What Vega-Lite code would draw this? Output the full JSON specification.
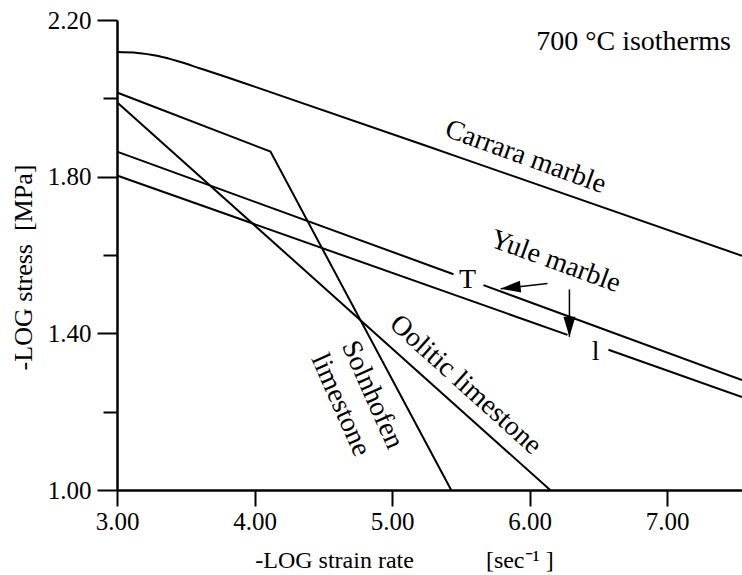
{
  "$schema": "https://vega.github.io/schema/vega-lite/v6.json",
  "autosize": {"type": "none"},
  "padding": {"left": 117, "top": 20, "right": 0, "bottom": 85},
  "width": 625,
  "height": 470,
  "background": "white",
  "view": {"stroke": null},
  "config": {
    "font": "Liberation Serif",
    "axis": {"labelFont": "Liberation Serif", "titleFont": "Liberation Serif", "labelColor": "black", "titleColor": "black", "domainColor": "black", "tickColor": "black", "grid": false, "titleFontWeight": "normal"}
  },
  "datasets": {
    "curves": [
      {"series": "Yule T a", "x": 3.0, "y": 1.864},
      {"series": "Yule T a", "x": 5.447, "y": 1.551},
      {"series": "Yule T b", "x": 5.665, "y": 1.523},
      {"series": "Yule T b", "x": 7.545, "y": 1.281},
      {"series": "Yule I a", "x": 3.0, "y": 1.803},
      {"series": "Yule I a", "x": 6.276, "y": 1.396},
      {"series": "Yule I b", "x": 6.574, "y": 1.358},
      {"series": "Yule I b", "x": 7.545, "y": 1.237},
      {"series": "Solnhofen limestone", "x": 3.0, "y": 2.015},
      {"series": "Solnhofen limestone", "x": 4.116, "y": 1.864},
      {"series": "Solnhofen limestone", "x": 5.43, "y": 1.0},
      {"series": "Oolitic limestone", "x": 3.0, "y": 1.99},
      {"series": "Oolitic limestone", "x": 6.15, "y": 1.0}
    ],
    "carrara": [
      {"series": "Carrara marble", "x": 3.0, "y": 2.118},
      {"series": "Carrara marble", "x": 3.15, "y": 2.116},
      {"series": "Carrara marble", "x": 3.3, "y": 2.108},
      {"series": "Carrara marble", "x": 3.45, "y": 2.094},
      {"series": "Carrara marble", "x": 3.6, "y": 2.077},
      {"series": "Carrara marble", "x": 3.8, "y": 2.054},
      {"series": "Carrara marble", "x": 4.0, "y": 2.030},
      {"series": "Carrara marble", "x": 5.5, "y": 1.848},
      {"series": "Carrara marble", "x": 7.545, "y": 1.598}
    ],
    "arrows": [
      {"id": "T", "x": 6.13, "y": 1.527, "x2": 5.79, "y2": 1.514},
      {"id": "I", "x": 6.29, "y": 1.512, "x2": 6.29, "y2": 1.391}
    ],
    "labels": [
      {"label": "700 °C isotherms", "x": 6.757, "y": 2.143},
      {"label": "Carrara marble", "x": 5.971, "y": 1.85},
      {"label": "Yule marble", "x": 6.189, "y": 1.583},
      {"label": "T", "x": 5.549, "y": 1.537},
      {"label": "l", "x": 6.48, "y": 1.353},
      {"label": "Oolitic limestone", "x": 5.534, "y": 1.2685},
      {"label": "Solnhofen", "x": 4.856, "y": 1.243},
      {"label": "limestone", "x": 4.625, "y": 1.217}
    ]
  },
  "layer": [
    {
      "data": {"name": "curves"},
      "mark": {"type": "line", "color": "black", "strokeWidth": 2},
      "encoding": {
        "x": {
          "field": "x", "type": "quantitative",
          "scale": {"domain": [3.0, 7.545], "nice": false, "zero": false},
          "axis": {
            "values": [3, 4, 5, 6, 7], "format": ".2f",
            "tickSize": 16, "tickWidth": 2, "domainWidth": 2.5,
            "labelFontSize": 25, "labelPadding": 3, "labelFlush": false,
            "title": "-LOG strain rate\u00a0\u00a0\u00a0\u00a0\u00a0\u00a0\u00a0\u00a0\u00a0\u00a0\u00a0\u00a0[sec\u207b\u00b9\u00a0]", "titleFontSize": 24,
            "titleX": 287, "titleY": 77, "titleBaseline": "alphabetic"
          }
        },
        "y": {
          "field": "y", "type": "quantitative",
          "scale": {"domain": [1.0, 2.2], "nice": false, "zero": false},
          "axis": {
            "values": [1.0, 1.2, 1.4, 1.6, 1.8, 2.0, 2.2],
            "labelExpr": "round(datum.value*10)%4==2 ? format(datum.value, '.2f') : ''",
            "tickSize": {"condition": {"test": "round(datum.value*10)%4==2", "value": 20}, "value": 14},
            "tickWidth": 2, "domainWidth": 2.5,
            "labelFontSize": 25, "labelPadding": 6, "labelFlush": false,
            "title": "-LOG stress\u00a0\u00a0[MPa]", "titleFontSize": 26,
            "titleX": -86, "titleY": 247, "titleBaseline": "alphabetic", "titleAngle": 270
          }
        },
        "detail": {"field": "series"}
      }
    },
    {
      "data": {"name": "carrara"},
      "mark": {"type": "line", "color": "black", "strokeWidth": 2, "interpolate": "monotone"},
      "encoding": {
        "x": {"field": "x", "type": "quantitative"},
        "y": {"field": "y", "type": "quantitative"}
      }
    },
    {
      "mark": {"type": "rule", "color": "black", "strokeWidth": 2.5},
      "encoding": {"y": {"datum": 2.2}}
    },
    {
      "data": {"name": "arrows"},
      "mark": {"type": "rule", "color": "black", "strokeWidth": 1.5},
      "encoding": {
        "x": {"field": "x", "type": "quantitative"},
        "y": {"field": "y", "type": "quantitative"},
        "x2": {"field": "x2"},
        "y2": {"field": "y2"}
      }
    },
    {
      "data": {"name": "arrows"},
      "transform": [{"filter": "datum.id == 'T'"}],
      "mark": {"type": "point", "shape": "M0,0L-0.3,1L0.3,1Z", "filled": true, "color": "black", "opacity": 1, "size": 1600, "angle": 264},
      "encoding": {
        "x": {"field": "x2", "type": "quantitative"},
        "y": {"field": "y2", "type": "quantitative"}
      }
    },
    {
      "data": {"name": "arrows"},
      "transform": [{"filter": "datum.id == 'I'"}],
      "mark": {"type": "point", "shape": "M0,0L-0.3,1L0.3,1Z", "filled": true, "color": "black", "opacity": 1, "size": 1600, "angle": 180},
      "encoding": {
        "x": {"field": "x2", "type": "quantitative"},
        "y": {"field": "y2", "type": "quantitative"}
      }
    },
    {
      "data": {"name": "labels"},
      "transform": [{"filter": "datum.label == '700 °C isotherms'"}],
      "mark": {"type": "text", "fontSize": 28, "align": "center", "baseline": "middle", "color": "black"},
      "encoding": {"x": {"field": "x", "type": "quantitative"}, "y": {"field": "y", "type": "quantitative"}, "text": {"field": "label"}}
    },
    {
      "data": {"name": "labels"},
      "transform": [{"filter": "datum.label == 'Carrara marble' || datum.label == 'Yule marble'"}],
      "mark": {"type": "text", "fontSize": 28, "align": "center", "baseline": "middle", "angle": 20, "color": "black"},
      "encoding": {"x": {"field": "x", "type": "quantitative"}, "y": {"field": "y", "type": "quantitative"}, "text": {"field": "label"}}
    },
    {
      "data": {"name": "labels"},
      "transform": [{"filter": "datum.label == 'T' || datum.label == 'l'"}],
      "mark": {"type": "text", "fontSize": 28, "align": "center", "baseline": "middle", "color": "black"},
      "encoding": {"x": {"field": "x", "type": "quantitative"}, "y": {"field": "y", "type": "quantitative"}, "text": {"field": "label"}}
    },
    {
      "data": {"name": "labels"},
      "transform": [{"filter": "datum.label == 'Oolitic limestone'"}],
      "mark": {"type": "text", "fontSize": 28, "align": "center", "baseline": "middle", "angle": 42, "color": "black"},
      "encoding": {"x": {"field": "x", "type": "quantitative"}, "y": {"field": "y", "type": "quantitative"}, "text": {"field": "label"}}
    },
    {
      "data": {"name": "labels"},
      "transform": [{"filter": "datum.label == 'Solnhofen' || datum.label == 'limestone'"}],
      "mark": {"type": "text", "fontSize": 28, "align": "center", "baseline": "middle", "angle": 66, "color": "black"},
      "encoding": {"x": {"field": "x", "type": "quantitative"}, "y": {"field": "y", "type": "quantitative"}, "text": {"field": "label"}}
    }
  ]
}
